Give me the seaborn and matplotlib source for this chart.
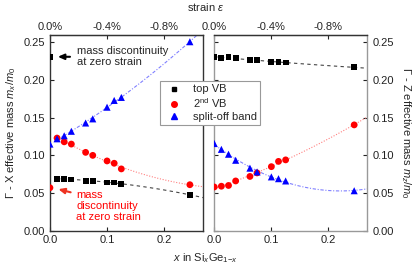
import numpy as np
import matplotlib
matplotlib.use('Agg')
import matplotlib.pyplot as plt
import seaborn as sns
from matplotlib.lines import Line2D

# composition x in SixGe1-x
x_vals = [0.0, 0.0125, 0.025, 0.0375, 0.0625, 0.075, 0.1, 0.1125, 0.125, 0.245]

# Gamma-X effective masses
gx_top = [0.231, 0.069, 0.069, 0.068, 0.066, 0.066, 0.064, 0.064, 0.0625, 0.0475]
gx_2nd = [0.057, 0.123, 0.118, 0.115, 0.104, 0.100, 0.0926, 0.0895, 0.082, 0.061]
gx_so = [0.115, 0.122, 0.126, 0.132, 0.143, 0.1485, 0.164, 0.173, 0.177, 0.251]

# Gamma-Z effective masses
gz_top = [0.2305, 0.2297, 0.2305, 0.229, 0.227, 0.2265, 0.224, 0.224, 0.2234, 0.217]
gz_2nd = [0.058, 0.059, 0.060, 0.066, 0.072, 0.0767, 0.085, 0.092, 0.094, 0.1405]
gz_so = [0.1157, 0.108, 0.1015, 0.0935, 0.083, 0.078, 0.0714, 0.069, 0.066, 0.053]

strain_ticks = [0.0, 0.1, 0.2]
strain_labels = ['0.0%', '-0.4%', '-0.8%']

sns.set_style('ticks')
plt.rcParams['font.family'] = ['Liberation Sans', 'DejaVu Sans']
plt.rcParams['mathtext.fontset'] = 'custom'
plt.rcParams['mathtext.it'] = 'Liberation Sans:italic'
plt.rcParams['mathtext.rm'] = 'Liberation Sans'
plt.rcParams['font.size'] = 8

fig = plt.figure(figsize=(4.16, 2.71), dpi=100)
ax1 = fig.add_axes([0.120, 0.149, 0.368, 0.722])
ax2 = fig.add_axes([0.515, 0.149, 0.368, 0.722])

xmax = 0.268
series_style = [
    ('s', 'black', 18, '#444444', (0, (3, 3))),
    ('o', 'red', 24, '#ff8080', (0, (1, 1.5))),
    ('^', 'blue', 26, '#8080ff', (0, (3, 1.5, 1, 1.5))),
]


def draw_panel(ax, series, fit_start):
    x = np.array(x_vals)
    for (mk, col, sz, lcol, ls), y, i0 in zip(series_style, series, fit_start):
        y = np.array(y)
        coef = np.polyfit(x[i0:], y[i0:], 2)
        xf = np.linspace(x[i0], xmax, 50)
        ax.plot(xf, np.polyval(coef, xf), color=lcol, lw=0.8, ls=ls, zorder=1)
        sns.scatterplot(x=x, y=y, marker=mk, color=col, s=sz, edgecolor='none',
                        ax=ax, zorder=3, legend=False)
    ax.set_xlim(0, xmax)
    ax.set_ylim(0, 0.26)
    ax.set_xticks([0.0, 0.1, 0.2])
    ax.set_xticklabels(['0.0', '0.1', '0.2'])
    ax.set_yticks([0.0, 0.05, 0.10, 0.15, 0.20, 0.25])
    ax.set_xlabel('')
    ax.set_ylabel('')
    ax.tick_params(direction='in', length=3, width=0.8, labelsize=8, colors='#222222')
    top = ax.secondary_xaxis('top')
    top.set_xticks(strain_ticks)
    top.set_xticklabels(strain_labels)
    top.tick_params(direction='in', length=3, width=0.8, labelsize=8, pad=2)


draw_panel(ax1, [gx_top, gx_2nd, gx_so], [1, 1, 1])
draw_panel(ax2, [gz_top, gz_2nd, gz_so], [0, 0, 0])

ax1.set_yticklabels(['0.00', '0.05', '0.10', '0.15', '0.20', '0.25'])
ax2.yaxis.tick_right()
ax2.set_yticklabels(['0.00', '0.05', '0.10', '0.15', '0.20', '0.25'])
ax2.tick_params(axis='y', which='both', left=True, right=True, direction='in')

for sp in ax1.spines.values():
    sp.set_color('#333333')
    sp.set_linewidth(1.0)
for sp in ax2.spines.values():
    sp.set_color('#999999')
    sp.set_linewidth(1.0)
ax2.spines['top'].set_color('#333333')

ax1.set_ylabel(r'$\Gamma$ - X effective mass $m_x/m_0$', fontsize=8, labelpad=4)
ax2.yaxis.set_label_position('right')
ax2.set_ylabel(r'$\Gamma$ - Z effective mass $m_z/m_0$', fontsize=8,
               rotation=270, labelpad=14)

fig.text(0.495, 0.048, r'$x$ in Si$_x$Ge$_{1\mathit{-x}}$', ha='center', va='center', fontsize=8)
fig.text(0.495, 0.975, r'strain $\varepsilon$', ha='center', va='center', fontsize=8)

# annotations
ax1.text(0.047, 0.231, 'mass discontinuity\nat zero strain', fontsize=8,
         ha='left', va='center', linespacing=1.1)
ax1.annotate('', xy=(0.009, 0.231), xytext=(0.040, 0.231),
             arrowprops=dict(arrowstyle='-|>,head_length=0.45,head_width=0.2',
                             color='black', lw=1.5))
ax1.text(0.046, 0.033, 'mass\ndiscontinuity\nat zero strain', fontsize=8,
         ha='left', va='center', color='red', linespacing=1.1)
ax1.annotate('', xy=(0.010, 0.056), xytext=(0.041, 0.050),
             arrowprops=dict(arrowstyle='-|>,head_length=0.45,head_width=0.2',
                             color='#ee3322', lw=1.5))

handles = [
    Line2D([], [], ls='none', marker='s', color='black', ms=3.5),
    Line2D([], [], ls='none', marker='o', color='red', ms=4),
    Line2D([], [], ls='none', marker='^', color='blue', ms=4),
]
labels = ['top VB', r'2$^{\rm nd}$ VB', 'split-off band']
leg = fig.legend(handles, labels, loc='center', bbox_to_anchor=(0.505, 0.62),
                 fontsize=8, frameon=True, fancybox=False, framealpha=1,
                 edgecolor='#999999', handletextpad=0.8, labelspacing=0.15,
                 borderpad=0.3, handlelength=1.8)
leg.get_frame().set_linewidth(0.8)

plt.savefig('out.png', dpi=100)
